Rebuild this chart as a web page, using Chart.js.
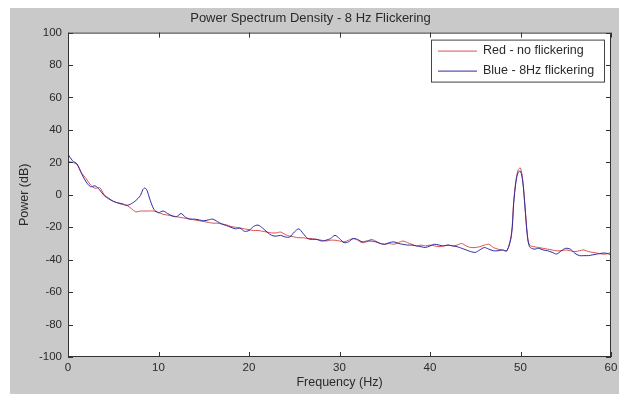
<!DOCTYPE html>
<html>
<head>
<meta charset="utf-8">
<script src="https://cdn.jsdelivr.net/npm/chart.js@4.4.1/dist/chart.umd.min.js"></script>
<style>
  html, body { margin: 0; padding: 0; background: #fff; }
  #wrap { width: 619px; height: 394px; }
</style>
</head>
<body>
<div id="wrap"><canvas id="psd" width="619" height="394"></canvas></div>
<script>
// frequency bins (Hz), finer around the 8 Hz and 50 Hz peaks
var freqs = [0, 0.5, 1, 1.5, 2, 2.5, 3, 3.5, 4, 4.5, 5, 5.5, 6, 6.5, 7, 7.5, 8, 8.25, 8.5, 8.75, 9, 9.5,
    10, 10.5, 11, 11.5, 12, 12.5, 13, 13.5, 14, 14.5, 15, 15.5, 16, 16.5, 17, 17.5, 18, 18.5, 19, 19.5,
    20, 20.5, 21, 21.5, 22, 22.5, 23, 23.5, 24, 24.5, 25, 25.5, 26, 26.5, 27, 27.5, 28, 28.5, 29, 29.5,
    30, 30.5, 31, 31.5, 32, 32.5, 33, 33.5, 34, 34.5, 35, 35.5, 36, 36.5, 37, 37.5, 38, 38.5, 39, 39.5,
    40, 40.5, 41, 41.5, 42, 42.5, 43, 43.5, 44, 44.5, 45, 45.5, 46, 46.5, 47, 47.5, 48, 48.5,
    49, 49.25, 49.5, 49.75, 50, 50.25, 50.5, 50.75, 51, 51.5, 52, 52.5, 53, 53.5, 54, 54.5,
    55, 55.5, 56, 56.5, 57, 57.5, 58, 58.5, 59, 59.5, 60];

// Red - no flickering (dB)
var redDb = [20.5, 20, 18.5, 13.5, 10, 6, 4, 4.5, 0, -2, -4, -5, -6, -6.5, -8.5, -10.5, -10, -10, -10, -10, -10, -10,
    -11, -12, -12.5, -13, -13.5, -14, -14.5, -15, -15.5, -16, -16.5, -17, -17.5, -17.5, -18, -18.5, -19.5, -20, -20.5, -21,
    -21.5, -22, -22, -22.5, -23, -23.5, -23.5, -23, -24.5, -25.5, -26, -26.5, -26.5, -27, -27, -27.5, -28, -28.5, -28, -28,
    -28.5, -29, -28, -27, -28, -29.5, -29, -27.5, -28.5, -30, -30.5, -30, -30.5, -29.5, -28.5, -29.5, -30.5, -31.5, -31, -31.5,
    -31, -31.5, -32, -31.5, -31, -31.5, -31, -30, -31.5, -32.5, -32.5, -32, -31, -30.5, -32.5, -33.5, -34, -34.5,
    -24, -4, 9, 15.5, 16.5, 9, -7, -24, -31, -32, -32.5, -33, -33.5, -34, -34.5, -34.5,
    -34, -34.5, -35, -34.5, -34, -35, -35.5, -36, -36.5, -36.5, -35.5];

// Blue - 8Hz flickering (dB)
var blueDb = [25, 21, 19, 13, 8, 5, 5.5, 3, -0.5, -2.5, -4, -5, -5.5, -6.5, -5.5, -3.5, -0.5, 3, 4.2, 2.5, -2, -9,
    -11, -10, -11.5, -13, -13.5, -11.5, -14, -15, -15, -15.5, -16, -15.5, -15, -16.5, -18, -19, -20, -21, -20.5, -22.5,
    -22, -19.5, -18.7, -20.5, -23, -25, -25.5, -25, -26, -26, -23, -21, -24, -27, -27.5, -27.5, -28.5, -28, -27, -25,
    -27, -29.5, -29, -27, -27.5, -29, -28.5, -28.5, -29, -30, -30.5, -29.5, -29, -30, -30.5, -31, -31, -31.5, -32, -32.5,
    -31.5, -30.5, -31, -31.5, -31, -31.5, -32, -33, -34, -35, -35.5, -34, -32.5, -33.5, -34.5, -34.5, -34, -34.5,
    -25, -5, 8, 14, 14.5, 8, -8, -25, -32, -33.5, -33, -34, -34.5, -35.5, -36.5, -34.5,
    -33, -33.5, -36, -37.5, -37.5, -37.5, -37, -36.5, -36, -36, -37];

var xTicks = [0, 10, 20, 30, 40, 50, 60];
var yTicks = [100, 80, 60, 40, 20, 0, -20, -40, -60, -80, -100];

var textCol = '#2a2a2a';
var fontFam = '"Liberation Sans", Arial, sans-serif';

function pts(vals) {
    return freqs.map(function (f, i) { return { x: f, y: vals[i] }; });
}

// grey figure background + white axes area
var figureBg = {
    id: 'figureBg',
    beforeDraw: function (chart) {
        var ctx = chart.ctx, a = chart.chartArea;
        ctx.save();
        ctx.fillStyle = '#ffffff';
        ctx.fillRect(0, 0, chart.width, chart.height);
        ctx.fillStyle = '#c9c9c9';
        ctx.fillRect(10, 8, chart.width - 10, chart.height - 8);
        ctx.fillStyle = '#ffffff';
        ctx.fillRect(a.left, a.top, a.right - a.left, a.bottom - a.top);
        ctx.restore();
    }
};

// box round the axes with inward ticks on all four sides, legend in the corner
var axesBox = {
    id: 'axesBox',
    afterDraw: function (chart) {
        var ctx = chart.ctx, a = chart.chartArea;
        var xs = chart.scales.x, ys = chart.scales.y;
        ctx.save();
        ctx.strokeStyle = '#333';
        ctx.lineWidth = 1;
        ctx.strokeRect(a.left + 0.5, a.top + 0.5, a.right - a.left - 1, a.bottom - a.top - 1);
        ctx.beginPath();
        xTicks.forEach(function (t) {
            var px = Math.round(xs.getPixelForValue(t)) + 0.5;
            ctx.moveTo(px, a.bottom); ctx.lineTo(px, a.bottom - 5);
            ctx.moveTo(px, a.top); ctx.lineTo(px, a.top + 5);
        });
        yTicks.forEach(function (t) {
            var py = Math.round(ys.getPixelForValue(t)) + 0.5;
            ctx.moveTo(a.left, py); ctx.lineTo(a.left + 5, py);
            ctx.moveTo(a.right, py); ctx.lineTo(a.right - 5, py);
        });
        ctx.stroke();

        // legend
        var w = 173, h = 42;
        var lx = a.right - 7 - w, ly = a.top + 7;
        ctx.fillStyle = '#fff';
        ctx.fillRect(lx, ly, w, h);
        ctx.strokeStyle = '#444';
        ctx.strokeRect(lx + 0.5, ly + 0.5, w, h);
        ctx.font = '12.5px ' + fontFam;
        ctx.textBaseline = 'middle';
        ctx.textAlign = 'left';
        chart.data.datasets.forEach(function (ds, i) {
            var yy = ly + 11 + i * 20;
            ctx.strokeStyle = ds.borderColor;
            ctx.beginPath();
            ctx.moveTo(lx + 7, yy + 0.5); ctx.lineTo(lx + 46, yy + 0.5);
            ctx.stroke();
            ctx.fillStyle = textCol;
            ctx.fillText(ds.label, lx + 52, yy);
        });
        ctx.restore();
    }
};

new Chart(document.getElementById('psd'), {
    type: 'line',
    data: {
        datasets: [
            {
                label: 'Red - no flickering',
                data: pts(redDb),
                borderColor: 'rgb(222, 80, 80)',
                borderWidth: 1,
                pointRadius: 0,
                tension: 0.3,
                fill: false,
                order: 2
            },
            {
                label: 'Blue - 8Hz flickering',
                data: pts(blueDb),
                borderColor: 'rgb(45, 45, 160)',
                borderWidth: 1,
                pointRadius: 0,
                tension: 0.3,
                fill: false,
                order: 1
            }
        ]
    },
    options: {
        responsive: false,
        animation: false,
        layout: { padding: { left: 10, top: 0, right: 8, bottom: 0 } },
        plugins: {
            legend: { display: false },
            tooltip: { enabled: false },
            title: {
                display: true,
                text: 'Power Spectrum Density - 8 Hz Flickering',
                color: textCol,
                font: { family: fontFam, size: 13, weight: 'normal' },
                padding: { top: 11, bottom: 6 }
            }
        },
        scales: {
            x: {
                type: 'linear',
                min: 0,
                max: 60,
                grid: { display: false, tickLength: 0 },
                border: { display: false },
                afterBuildTicks: function (s) { s.ticks = xTicks.map(function (v) { return { value: v }; }); },
                afterFit: function (s) { s.height = 37; s.paddingRight = 0; s.paddingLeft = 0; },
                ticks: {
                    color: textCol,
                    padding: 4,
                    maxRotation: 0,
                    font: { family: fontFam, size: 11.5 }
                },
                title: {
                    display: true,
                    text: 'Frequency (Hz)',
                    color: textCol,
                    font: { family: fontFam, size: 12.5 },
                    padding: { top: 0, bottom: 4 }
                }
            },
            y: {
                min: -100,
                max: 100,
                grid: { display: false, tickLength: 0 },
                border: { display: false },
                afterBuildTicks: function (s) { s.ticks = yTicks.map(function (v) { return { value: v }; }); },
                afterFit: function (s) { s.width = 58; },
                ticks: {
                    color: textCol,
                    padding: 6,
                    font: { family: fontFam, size: 11.5 }
                },
                title: {
                    display: true,
                    text: 'Power (dB)',
                    color: textCol,
                    font: { family: fontFam, size: 12.5 },
                    padding: { top: 7, bottom: 0 }
                }
            }
        }
    },
    plugins: [figureBg, axesBox]
});
</script>
</body>
</html>
